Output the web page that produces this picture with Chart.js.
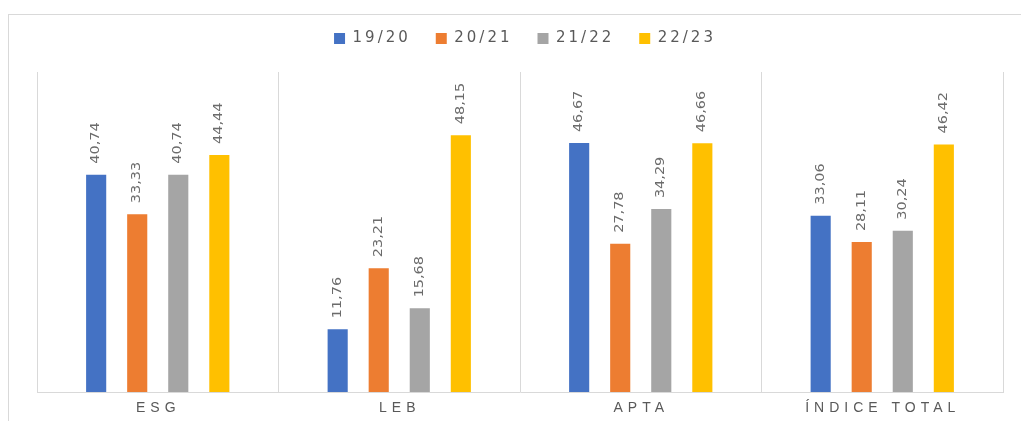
<!DOCTYPE html>
<html>
<head>
<meta charset="utf-8">
<script src="https://cdn.jsdelivr.net/npm/chart.js@4.4.1/dist/chart.umd.min.js"></script>
<style>
  html, body { margin: 0; padding: 0; background: #ffffff; }
  #wrap { position: relative; width: 1021px; height: 421px; overflow: hidden; }
  #frame { position: absolute; left: 8px; top: 14px; width: 1100px; height: 500px; border: 1px solid #d9d9d9; box-sizing: border-box; }
  #c { position: absolute; left: 0; top: 0; }
</style>
</head>
<body>
<div id="wrap">
  <div id="frame"></div>
  <canvas id="c" width="1021" height="421"></canvas>
</div>
<script>
const categories = ['ESG', 'LEB', 'APTA', 'ÍNDICE TOTAL'];
const seriesNames = ['19/20', '20/21', '21/22', '22/23'];
const s1920 = [40.74, 11.76, 46.67, 33.06];
const s2021 = [33.33, 23.21, 27.78, 28.11];
const s2122 = [40.74, 15.68, 34.29, 30.24];
const s2223 = [44.44, 48.15, 46.66, 46.42];
const colors = ['#4472C4', '#ED7D31', '#A5A5A5', '#FFC000'];

const fmt = v => v.toFixed(2).replace('.', ',');

const valueLabels = {
  id: 'valueLabels',
  afterDatasetsDraw(chart) {
    const ctx = chart.ctx;
    chart.data.datasets.forEach((ds, di) => {
      chart.getDatasetMeta(di).data.forEach((bar, i) => {
        ctx.save();
        ctx.translate(bar.x, bar.y - 11);
        ctx.rotate(-Math.PI / 2);
        ctx.scale(1.34, 1);
        ctx.font = '12px "Liberation Sans Narrow", "DejaVu Sans Condensed", sans-serif';
        ctx.fillStyle = '#6b6b6b';
        ctx.textAlign = 'left';
        ctx.textBaseline = 'middle';
        ctx.fillText(fmt(ds.data[i]), 0, 0);
        ctx.restore();
      });
    });
  }
};

const categoryLabels = {
  id: 'categoryLabels',
  afterDraw(chart) {
    const ctx = chart.ctx;
    const xs = chart.scales.x;
    const spacing = 5;
    ctx.save();
    ctx.font = '14px "Liberation Sans", Arial, sans-serif';
    ctx.fillStyle = '#595959';
    ctx.textAlign = 'center';
    ctx.textBaseline = 'middle';
    ctx.letterSpacing = spacing + 'px';
    chart.data.labels.forEach((lab, i) => {
      ctx.fillText(lab, xs.getPixelForValue(i) - 2 + spacing / 2, chart.chartArea.bottom + 16);
    });
    ctx.restore();
  }
};

const legendTweak = {
  id: 'legendTweak',
  beforeLayout(chart) {
    const lg = chart.legend;
    if (lg && !lg._tweaked) {
      const f = lg.fit;
      lg.fit = function () {
        const ctx = this.ctx;
        ctx.save();
        ctx.letterSpacing = '3px';
        f.apply(this, arguments);
        ctx.restore();
        this.height += 16;
      };
      const d = lg.draw;
      lg.draw = function () {
        const ctx = this.ctx;
        ctx.save();
        ctx.letterSpacing = '3px';
        ctx.translate(5, 0);
        d.apply(this, arguments);
        ctx.restore();
      };
      lg._tweaked = true;
    }
  }
};

const seriesData = [s1920, s2021, s2122, s2223];

new Chart(document.getElementById('c'), {
  type: 'bar',
  data: {
    labels: categories,
    datasets: seriesNames.map((n, i) => ({
      label: n,
      data: seriesData[i],
      backgroundColor: colors[i],
      borderWidth: 0,
      categoryPercentage: 0.68,
      barPercentage: 0.49
    }))
  },
  options: {
    responsive: false,
    devicePixelRatio: 1,
    animation: false,
    layout: { padding: { left: 37, right: 18, top: 6, bottom: 29 } },
    plugins: {
      tooltip: { enabled: false },
      legend: {
        display: true,
        position: 'top',
        labels: {
          boxWidth: 11,
          boxHeight: 11,
          padding: 25,
          color: '#595959',
          font: { family: '"DejaVu Sans", Verdana, sans-serif', size: 15 }
        }
      }
    },
    scales: {
      x: {
        grid: { display: true, color: '#d9d9d9', lineWidth: 1, drawTicks: false, offset: true },
        border: { display: true, color: '#d9d9d9', width: 1 },
        ticks: { display: false }
      },
      y: {
        display: false,
        min: 0,
        max: 60
      }
    }
  },
  plugins: [valueLabels, categoryLabels, legendTweak]
});
</script>
</body>
</html>
